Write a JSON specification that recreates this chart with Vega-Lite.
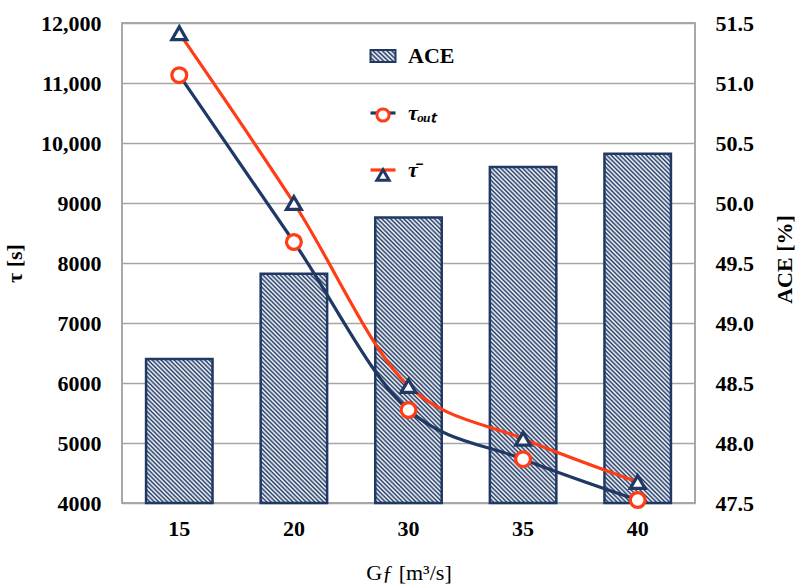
{
"$schema":"https://vega.github.io/schema/vega-lite/v6.json",
"width":573,"height":480,
"autosize":{"type":"none"},
"padding":{"left":122,"top":23,"right":101,"bottom":85},
"background":"white",
"config":{
 "font":"Liberation Serif",
 "view":{"stroke":"#8c8c8c","strokeWidth":1.5},
 "axis":{"labelFont":"Liberation Serif","labelFontSize":22,"labelFontWeight":"bold","labelColor":"#000","titleFont":"Liberation Serif","titleFontSize":22,"titleColor":"#000","ticks":false,"domain":false,"grid":false},
 "legend":{"labelFont":"Liberation Serif","labelFontSize":22,"labelColor":"#000","padding":0}
},
"datasets":{
 "ace":[{"Gf":15,"ACE":48.7},{"Gf":20,"ACE":49.41},{"Gf":30,"ACE":49.88},{"Gf":35,"ACE":50.3},{"Gf":40,"ACE":50.41}],
 "tau":[
  {"Gf":15,"series":"τₒᵤₜ","tau":11130},{"Gf":20,"series":"τₒᵤₜ","tau":8350},{"Gf":30,"series":"τₒᵤₜ","tau":5550},{"Gf":35,"series":"τₒᵤₜ","tau":4730},{"Gf":40,"series":"τₒᵤₜ","tau":4050},
  {"Gf":15,"series":"τ̄","tau":11830},{"Gf":20,"series":"τ̄","tau":9000},{"Gf":30,"series":"τ̄","tau":5950},{"Gf":35,"series":"τ̄","tau":5070},{"Gf":40,"series":"τ̄","tau":4350}
 ]
},
"encoding":{"x":{"field":"Gf","type":"ordinal","scale":{"type":"band","paddingInner":0.42,"paddingOuter":0.21},
 "axis":{"labelAngle":0,"labelPadding":15,"title":"Gƒ [m³/s]","titleY":69,"titleBaseline":"middle","titleFontWeight":"normal","titleFontStyle":"normal"}}},
"layer":[
 {"data":{"name":"ace"},
  "encoding":{"y":{"field":"ACE","type":"quantitative","scale":{"domain":[47.5,51.5],"zero":false,"nice":false},
    "axis":{"orient":"right","values":[47.5,48,48.5,49,49.5,50,50.5,51,51.5],"format":".1f","labelPadding":20,"labelFlush":false,"title":"ACE [%]","titleX":89,"titleY":236,"titleAngle":-90,"titleBaseline":"middle","titleAlign":"center","titleFontWeight":"bold"}}},
  "layer":[
   {"transform":[{"calculate":"datum.ACE - 4","as":"ACE_base"}],
    "mark":{"type":"bar","clip":true,"fill":{"gradient":"linear","x1":0,"y1":1,"x2":0.15469,"y2":-0.11706,"stops":[
{"offset":0.232,"color":"#1f3864"},{"offset":0.236,"color":"#fff"},{"offset":0.240,"color":"#1f3864"},{"offset":0.244,"color":"#fff"},{"offset":0.248,"color":"#1f3864"},{"offset":0.252,"color":"#fff"},{"offset":0.256,"color":"#1f3864"},{"offset":0.260,"color":"#fff"},{"offset":0.264,"color":"#1f3864"},{"offset":0.268,"color":"#fff"},{"offset":0.272,"color":"#1f3864"},{"offset":0.276,"color":"#fff"},{"offset":0.280,"color":"#1f3864"},{"offset":0.284,"color":"#fff"},{"offset":0.288,"color":"#1f3864"},{"offset":0.292,"color":"#fff"},{"offset":0.296,"color":"#1f3864"},{"offset":0.300,"color":"#fff"},{"offset":0.304,"color":"#1f3864"},{"offset":0.308,"color":"#fff"},{"offset":0.312,"color":"#1f3864"},{"offset":0.316,"color":"#fff"},{"offset":0.320,"color":"#1f3864"},{"offset":0.324,"color":"#fff"},{"offset":0.328,"color":"#1f3864"},{"offset":0.332,"color":"#fff"},{"offset":0.336,"color":"#1f3864"},{"offset":0.340,"color":"#fff"},{"offset":0.344,"color":"#1f3864"},{"offset":0.348,"color":"#fff"},{"offset":0.352,"color":"#1f3864"},{"offset":0.356,"color":"#fff"},{"offset":0.360,"color":"#1f3864"},{"offset":0.364,"color":"#fff"},{"offset":0.368,"color":"#1f3864"},{"offset":0.372,"color":"#fff"},{"offset":0.376,"color":"#1f3864"},{"offset":0.380,"color":"#fff"},{"offset":0.384,"color":"#1f3864"},{"offset":0.388,"color":"#fff"},{"offset":0.392,"color":"#1f3864"},{"offset":0.396,"color":"#fff"},{"offset":0.400,"color":"#1f3864"},{"offset":0.404,"color":"#fff"},{"offset":0.408,"color":"#1f3864"},{"offset":0.412,"color":"#fff"},{"offset":0.416,"color":"#1f3864"},{"offset":0.420,"color":"#fff"},{"offset":0.424,"color":"#1f3864"},{"offset":0.428,"color":"#fff"},{"offset":0.432,"color":"#1f3864"},{"offset":0.436,"color":"#fff"},{"offset":0.440,"color":"#1f3864"},{"offset":0.444,"color":"#fff"},{"offset":0.448,"color":"#1f3864"},{"offset":0.452,"color":"#fff"},{"offset":0.456,"color":"#1f3864"},{"offset":0.460,"color":"#fff"},{"offset":0.464,"color":"#1f3864"},{"offset":0.468,"color":"#fff"},{"offset":0.472,"color":"#1f3864"},{"offset":0.476,"color":"#fff"},{"offset":0.480,"color":"#1f3864"},{"offset":0.484,"color":"#fff"},{"offset":0.488,"color":"#1f3864"},{"offset":0.492,"color":"#fff"},{"offset":0.496,"color":"#1f3864"},{"offset":0.500,"color":"#fff"},{"offset":0.504,"color":"#1f3864"},{"offset":0.508,"color":"#fff"},{"offset":0.512,"color":"#1f3864"},{"offset":0.516,"color":"#fff"},{"offset":0.520,"color":"#1f3864"},{"offset":0.524,"color":"#fff"},{"offset":0.528,"color":"#1f3864"},{"offset":0.532,"color":"#fff"},{"offset":0.536,"color":"#1f3864"},{"offset":0.540,"color":"#fff"},{"offset":0.544,"color":"#1f3864"},{"offset":0.548,"color":"#fff"},{"offset":0.552,"color":"#1f3864"},{"offset":0.556,"color":"#fff"},{"offset":0.560,"color":"#1f3864"},{"offset":0.564,"color":"#fff"},{"offset":0.568,"color":"#1f3864"},{"offset":0.572,"color":"#fff"},{"offset":0.576,"color":"#1f3864"},{"offset":0.580,"color":"#fff"},{"offset":0.584,"color":"#1f3864"},{"offset":0.588,"color":"#fff"},{"offset":0.592,"color":"#1f3864"},{"offset":0.596,"color":"#fff"},{"offset":0.600,"color":"#1f3864"},{"offset":0.604,"color":"#fff"},{"offset":0.608,"color":"#1f3864"},{"offset":0.612,"color":"#fff"},{"offset":0.616,"color":"#1f3864"},{"offset":0.620,"color":"#fff"},{"offset":0.624,"color":"#1f3864"},{"offset":0.628,"color":"#fff"},{"offset":0.632,"color":"#1f3864"},{"offset":0.636,"color":"#fff"},{"offset":0.640,"color":"#1f3864"},{"offset":0.644,"color":"#fff"},{"offset":0.648,"color":"#1f3864"},{"offset":0.652,"color":"#fff"},{"offset":0.656,"color":"#1f3864"},{"offset":0.660,"color":"#fff"},{"offset":0.664,"color":"#1f3864"},{"offset":0.668,"color":"#fff"},{"offset":0.672,"color":"#1f3864"},{"offset":0.676,"color":"#fff"},{"offset":0.680,"color":"#1f3864"},{"offset":0.684,"color":"#fff"},{"offset":0.688,"color":"#1f3864"},{"offset":0.692,"color":"#fff"},{"offset":0.696,"color":"#1f3864"},{"offset":0.700,"color":"#fff"},{"offset":0.704,"color":"#1f3864"},{"offset":0.708,"color":"#fff"},{"offset":0.712,"color":"#1f3864"},{"offset":0.716,"color":"#fff"},{"offset":0.720,"color":"#1f3864"},{"offset":0.724,"color":"#fff"},{"offset":0.728,"color":"#1f3864"},{"offset":0.732,"color":"#fff"},{"offset":0.736,"color":"#1f3864"},{"offset":0.740,"color":"#fff"},{"offset":0.744,"color":"#1f3864"},{"offset":0.748,"color":"#fff"},{"offset":0.752,"color":"#1f3864"},{"offset":0.756,"color":"#fff"},{"offset":0.760,"color":"#1f3864"},{"offset":0.764,"color":"#fff"},{"offset":0.768,"color":"#1f3864"},{"offset":0.772,"color":"#fff"},{"offset":0.776,"color":"#1f3864"},{"offset":0.780,"color":"#fff"},{"offset":0.784,"color":"#1f3864"},{"offset":0.788,"color":"#fff"},{"offset":0.792,"color":"#1f3864"},{"offset":0.796,"color":"#fff"},{"offset":0.800,"color":"#1f3864"},{"offset":0.804,"color":"#fff"},{"offset":0.808,"color":"#1f3864"},{"offset":0.812,"color":"#fff"},{"offset":0.816,"color":"#1f3864"},{"offset":0.820,"color":"#fff"},{"offset":0.824,"color":"#1f3864"},{"offset":0.828,"color":"#fff"},{"offset":0.832,"color":"#1f3864"},{"offset":0.836,"color":"#fff"},{"offset":0.840,"color":"#1f3864"},{"offset":0.844,"color":"#fff"},{"offset":0.848,"color":"#1f3864"},{"offset":0.852,"color":"#fff"},{"offset":0.856,"color":"#1f3864"},{"offset":0.860,"color":"#fff"},{"offset":0.864,"color":"#1f3864"},{"offset":0.868,"color":"#fff"},{"offset":0.872,"color":"#1f3864"},{"offset":0.876,"color":"#fff"},{"offset":0.880,"color":"#1f3864"},{"offset":0.884,"color":"#fff"},{"offset":0.888,"color":"#1f3864"},{"offset":0.892,"color":"#fff"},{"offset":0.896,"color":"#1f3864"},{"offset":0.900,"color":"#fff"},{"offset":0.904,"color":"#1f3864"},{"offset":0.908,"color":"#fff"},{"offset":0.912,"color":"#1f3864"},{"offset":0.916,"color":"#fff"},{"offset":0.920,"color":"#1f3864"},{"offset":0.924,"color":"#fff"},{"offset":0.928,"color":"#1f3864"},{"offset":0.932,"color":"#fff"},{"offset":0.936,"color":"#1f3864"},{"offset":0.940,"color":"#fff"},{"offset":0.944,"color":"#1f3864"},{"offset":0.948,"color":"#fff"},{"offset":0.952,"color":"#1f3864"},{"offset":0.956,"color":"#fff"},{"offset":0.960,"color":"#1f3864"},{"offset":0.964,"color":"#fff"},{"offset":0.968,"color":"#1f3864"},{"offset":0.972,"color":"#fff"},{"offset":0.976,"color":"#1f3864"},{"offset":0.980,"color":"#fff"},{"offset":0.984,"color":"#1f3864"},{"offset":0.988,"color":"#fff"},{"offset":0.992,"color":"#1f3864"},{"offset":0.996,"color":"#fff"},{"offset":1.000,"color":"#1f3864"}
    ]}},
    "encoding":{"y2":{"field":"ACE_base"}}},
   {"mark":{"type":"bar","fill":"transparent","stroke":"#1f3864","strokeWidth":2.5},
    "encoding":{"y2":{"datum":47.5}}}
  ]},
 {"data":{"name":"tau"},
  "encoding":{"y":{"field":"tau","type":"quantitative","scale":{"domain":[4000,12000],"zero":false,"nice":false},
    "axis":{"orient":"left","grid":true,"gridColor":"#a6a6a6","gridWidth":1.3,"values":[4000,5000,6000,7000,8000,9000,10000,11000,12000],"labelExpr":"datum.value >= 10000 ? format(datum.value, ',') : format(datum.value, 'd')","labelPadding":21,"title":"τ [s]","titleX":-108,"titleY":240,"titleBaseline":"middle","titleFontWeight":"bold"}}},
  "layer":[
   {"mark":{"type":"line","interpolate":"monotone","strokeWidth":3.2},
    "encoding":{"stroke":{"field":"series","type":"nominal","scale":{"domain":["ACE","τₒᵤₜ","τ̄"],"range":["#1f3864","#1f3864","#ff3c14"]},
      "legend":{"orient":"none","legendX":250,"legendY":22,"title":null,"symbolSize":100,"symbolStrokeWidth":3.2,"rowPadding":35,"labelOffset":14,"labelFontWeight":"bold","labelFontSize":22,
       "encode":{
        "symbols":{"update":{
          "size":{"value":100},
          "shape":{"signal":"datum.value === 'ACE' ? 'M-2.5,-1.2H2.5V1.2H-2.5Z' : 'M-2.5,0H2.5'"},
          "fill":{"signal":"datum.value === 'ACE' ? {gradient:'linear',x1:0,y1:1,x2:1.2,y2:0.4,stops:[{offset:0,color:'#1f3864'},{offset:0.0625,color:'#fff'},{offset:0.125,color:'#1f3864'},{offset:0.1875,color:'#fff'},{offset:0.25,color:'#1f3864'},{offset:0.3125,color:'#fff'},{offset:0.375,color:'#1f3864'},{offset:0.4375,color:'#fff'},{offset:0.5,color:'#1f3864'},{offset:0.5625,color:'#fff'},{offset:0.625,color:'#1f3864'},{offset:0.6875,color:'#fff'},{offset:0.75,color:'#1f3864'},{offset:0.8125,color:'#fff'},{offset:0.875,color:'#1f3864'},{offset:0.9375,color:'#fff'},{offset:1,color:'#1f3864'}]} : 'transparent'"},
          "strokeWidth":{"signal":"datum.value === 'ACE' ? 2 : 3.2"},
          "opacity":{"value":1}
        }},
        "labels":{"update":{"fontStyle":{"signal":"datum.value === 'ACE' ? 'normal' : 'italic'"}}}
       }}}}},
   {"mark":{"type":"point","filled":false,"fill":"#fff","strokeWidth":3.2,"size":220,"opacity":1},
    "encoding":{
     "color":{"field":"series","type":"nominal","scale":{"domain":["ACE ","τₒᵤₜ","τ̄"],"range":["transparent","#ff3c14","#1f3864"]},
      "legend":{"orient":"none","legendX":250,"legendY":22,"title":null,"symbolSize":150,"symbolStrokeWidth":3,"symbolOpacity":1,"rowPadding":35,"labelOffset":14,"labelFontSize":22,"labelExpr":"''"}},
     "shape":{"field":"series","type":"nominal","scale":{"domain":["ACE ","τₒᵤₜ","τ̄"],"range":["M0,0","circle","triangle-up"]},
      "legend":{"orient":"none","legendX":250,"legendY":22,"title":null,"symbolSize":150,"symbolStrokeWidth":3,"symbolOpacity":1,"rowPadding":35,"labelOffset":14,"labelFontSize":22,"labelExpr":"''"}}}}
  ]}
],
"resolve":{"scale":{"y":"independent","color":"independent","stroke":"independent","shape":"independent"}}
}
